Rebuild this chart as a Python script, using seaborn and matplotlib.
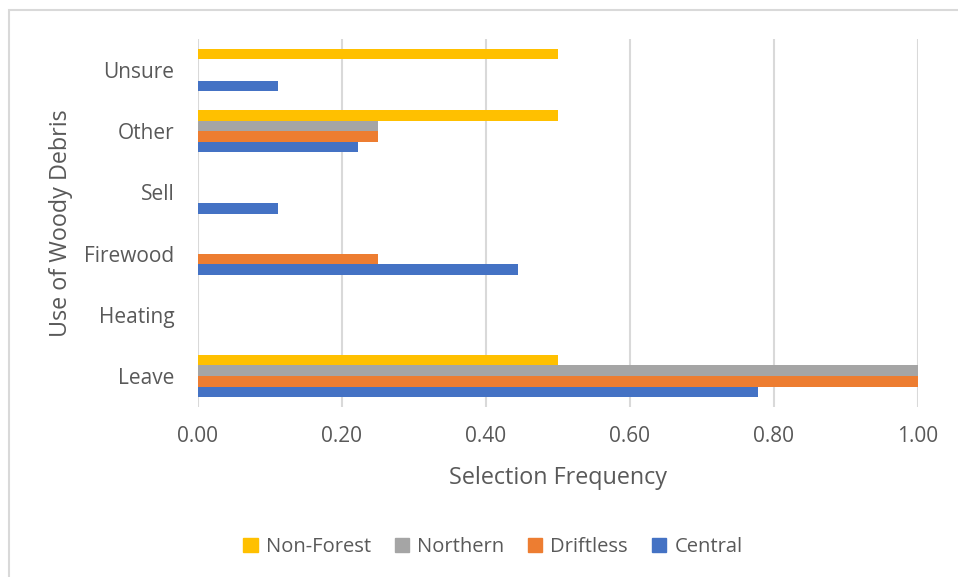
import pandas as pd
import seaborn as sns
import matplotlib.pyplot as plt
from matplotlib.patches import Rectangle

# categories from top to bottom, as in the chart
usos = ["Unsure", "Other", "Sell", "Firewood", "Heating", "Leave"]
regioes = ["Non-Forest", "Northern", "Driftless", "Central"]

non_forest = [0.50, 0.50, 0.0, 0.0, 0.0, 0.50]
northern = [0.0, 0.25, 0.0, 0.0, 0.0, 1.00]
driftless = [0.0, 0.25, 0.0, 0.25, 0.0, 1.00]
central = [0.111, 0.222, 0.111, 0.444, 0.0, 0.778]

cores = ["#FFC000", "#A5A5A5", "#ED7D31", "#4472C4"]

# montando tabela longa p/ o seaborn
linhas = []
for regiao, valores in zip(regioes, [non_forest, northern, driftless, central]):
    for uso, v in zip(usos, valores):
        linhas.append({"Uso": uso, "Regiao": regiao, "Frequencia": v})
df = pd.DataFrame(linhas)

sns.set_theme(style="white")
plt.rcParams["font.family"] = ["Open Sans", "DejaVu Sans"]
cinza_texto = "#595959"

fig = plt.figure(figsize=(9.58, 5.77), dpi=100)
ax = fig.add_axes([198 / 958, 1 - 406.6 / 577, 720 / 958, 367.2 / 577])

sns.barplot(
    data=df,
    x="Frequencia",
    y="Uso",
    hue="Regiao",
    order=usos,
    hue_order=regioes,
    palette=cores,
    saturation=1,
    orient="h",
    width=0.69,
    linewidth=0,
    legend=False,
    ax=ax,
)

ax.set_xlim(0, 1.0)
ax.set_xticks([0, 0.2, 0.4, 0.6, 0.8, 1.0])
ax.set_xticklabels([f"{t:.2f}" for t in ax.get_xticks()])
ax.grid(axis="x", color="#D9D9D9", linewidth=1.5)
ax.set_axisbelow(True)
for s in ax.spines.values():
    s.set_visible(False)

ax.tick_params(axis="x", length=0, pad=14, labelsize=15, labelcolor=cinza_texto)
ax.tick_params(axis="y", length=0, pad=17, labelsize=15, labelcolor=cinza_texto)

ax.set_xlabel("Selection Frequency", fontsize=16.8, color=cinza_texto, labelpad=14)
ax.set_ylabel("Use of Woody Debris", fontsize=16.8, color=cinza_texto, labelpad=8)

# legenda embaixo
handles = [Rectangle((0, 0), 1, 1, color=c) for c in cores]
fig.legend(
    handles,
    regioes,
    loc="center",
    bbox_to_anchor=(493 / 958, 1 - 547 / 577),
    ncol=4,
    frameon=False,
    fontsize=14.5,
    labelcolor=cinza_texto,
    handlelength=0.7,
    handleheight=0.7,
    handletextpad=0.4,
    columnspacing=1.2,
)

# borda do grafico (estilo excel)
fig.patches.append(
    Rectangle((9 / 958, -0.1), 1.2, 1.1 - 10 / 577, transform=fig.transFigure,
              fill=False, edgecolor="#D9D9D9", linewidth=1.5)
)

fig.savefig("out.png", dpi=100)
plt.close()
